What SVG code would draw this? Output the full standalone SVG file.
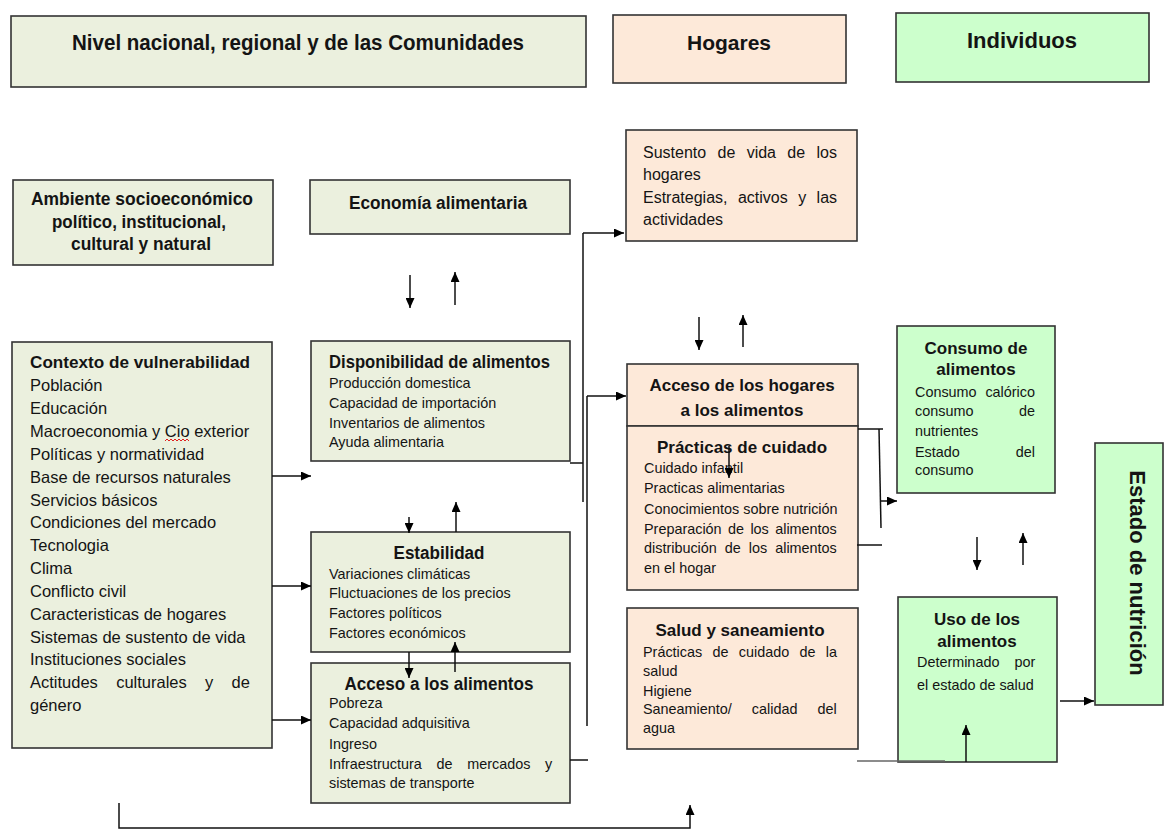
<svg xmlns="http://www.w3.org/2000/svg" width="1165" height="830" viewBox="0 0 1165 830">
<style>
.bg{fill:#EBF0DE;stroke:#333;stroke-width:1.6}
.bp{fill:#FDE9D9;stroke:#333;stroke-width:1.6}
.bv{fill:#CCFFCC;stroke:#333;stroke-width:1.6}
text{font-family:"Liberation Sans",Arial,sans-serif;fill:#141414}
.b{font-weight:bold}
.m{text-anchor:middle}
.s16{font-size:16px}
.s165{font-size:16.5px}
.s14{font-size:14.4px}
.c{stroke:#111;stroke-width:1.5;fill:none}
.a{marker-end:url(#ah)}
</style>
<defs>
<marker id="ah" viewBox="0 0 10 9" refX="10" refY="4.5" markerWidth="10" markerHeight="9" markerUnits="userSpaceOnUse" orient="auto">
<path d="M0,0 L10,4.5 L0,9 z" fill="#000"/>
</marker>
</defs>
<rect width="1165" height="830" fill="#fff"/>

<g id="nivel">
<rect class="bg" x="11" y="16" width="575" height="71"/>
<text class="b m" x="298" y="50" font-size="22" textLength="452" lengthAdjust="spacingAndGlyphs">Nivel nacional, regional y de las Comunidades</text>
</g>
<g id="hogares">
<rect class="bp" x="613" y="15" width="233" height="68"/>
<text class="b m" x="729" y="50" font-size="21">Hogares</text>
</g>
<g id="individuos">
<rect class="bv" x="896" y="13" width="253" height="69"/>
<text class="b m" x="1022" y="48" font-size="22">Individuos</text>
</g>

<g id="ambiente">
<rect class="bg" x="13" y="180" width="260" height="85"/>
<text class="b m" x="142" y="205" font-size="18" textLength="222" lengthAdjust="spacingAndGlyphs">Ambiente socioeconómico</text>
<text class="b m" x="139" y="228" font-size="18" textLength="174" lengthAdjust="spacingAndGlyphs">político, institucional,</text>
<text class="b m" x="141" y="250" font-size="18" textLength="140" lengthAdjust="spacingAndGlyphs">cultural y natural</text>
</g>

<g id="economia">
<rect class="bg" x="310" y="180" width="260" height="54"/>
<text class="b m" x="438" y="209" font-size="18" textLength="178" lengthAdjust="spacingAndGlyphs">Economía alimentaria</text>
</g>

<g id="contexto">
<rect class="bg" x="12" y="342" width="260" height="406"/>
<text class="b" x="30" y="368" font-size="17" textLength="220" lengthAdjust="spacingAndGlyphs">Contexto de vulnerabilidad</text>
<text class="s165" x="30" y="391">Población</text>
<text class="s165" x="30" y="414">Educación</text>
<text class="s165" x="30" y="437">Macroeconomia y Cio exterior</text>
<text class="s165" x="30" y="460">Políticas y normatividad</text>
<text class="s165" x="30" y="483">Base de recursos naturales</text>
<text class="s165" x="30" y="506">Servicios básicos</text>
<text class="s165" x="30" y="528">Condiciones del mercado</text>
<text class="s165" x="30" y="551">Tecnologia</text>
<text class="s165" x="30" y="574">Clima</text>
<text class="s165" x="30" y="597">Conflicto civil</text>
<text class="s165" x="30" y="620">Caracteristicas de hogares</text>
<text class="s165" x="30" y="643">Sistemas de sustento de vida</text>
<text class="s165" x="30" y="665">Instituciones sociales</text>
<text class="s165" x="30" y="688" word-spacing="13.7">Actitudes culturales y de</text>
<text class="s165" x="30" y="711">género</text>
<path d="M165,441 l2,-2 l2,2 l2,-2 l2,2 l2,-2 l2,2 l2,-2 l2,2 l2,-2 l2,2 l2,-2 l2,2" stroke="#e02020" stroke-width="1" fill="none"/>
</g>

<g id="disponibilidad">
<rect class="bg" x="311" y="341" width="259" height="120"/>
<text class="b" x="329" y="368" font-size="17.5" textLength="221" lengthAdjust="spacingAndGlyphs">Disponibilidad de alimentos</text>
<text class="s14" x="329" y="388">Producción domestica</text>
<text class="s14" x="329" y="408">Capacidad de importación</text>
<text class="s14" x="329" y="428">Inventarios de alimentos</text>
<text class="s14" x="329" y="447">Ayuda alimentaria</text>
</g>

<g id="estabilidad">
<rect class="bg" x="311" y="532" width="259" height="120"/>
<text class="b m" x="439" y="559" font-size="17.5" textLength="91" lengthAdjust="spacingAndGlyphs">Estabilidad</text>
<text class="s14" x="329" y="579">Variaciones climáticas</text>
<text class="s14" x="329" y="598">Fluctuaciones de los precios</text>
<text class="s14" x="329" y="618">Factores políticos</text>
<text class="s14" x="329" y="638">Factores económicos</text>
</g>

<g id="acceso">
<rect class="bg" x="311" y="663" width="259" height="140"/>
<text class="b m" x="439" y="690" font-size="17.5" textLength="189" lengthAdjust="spacingAndGlyphs">Acceso a los alimentos</text>
<text class="s14" x="329" y="708">Pobreza</text>
<text class="s14" x="329" y="728">Capacidad adquisitiva</text>
<text class="s14" x="329" y="749">Ingreso</text>
<text class="s14" x="329" y="769" word-spacing="10.7">Infraestructura de mercados y</text>
<text class="s14" x="329" y="788">sistemas de transporte</text>
</g>

<g id="sustento">
<rect class="bp" x="626" y="130" width="231" height="111"/>
<text class="s16" x="643" y="158" word-spacing="6.9">Sustento de vida de los</text>
<text class="s16" x="643" y="180">hogares</text>
<text class="s16" x="643" y="203" word-spacing="6">Estrategias, activos y las</text>
<text class="s16" x="643" y="225">actividades</text>
</g>

<g id="acceso-hogares">
<rect class="bp" x="627" y="364" width="231" height="62"/>
<text class="b m" x="742" y="391" font-size="17">Acceso de los hogares</text>
<text class="b m" x="742" y="416" font-size="17">a los alimentos</text>
</g>

<g id="practicas">
<rect class="bp" x="627" y="426" width="231" height="164"/>
<text class="b m" x="742" y="453" font-size="17">Prácticas de cuidado</text>
<text class="s14" x="644" y="473">Cuidado infantil</text>
<text class="s14" x="644" y="493">Practicas alimentarias</text>
<text class="s14" x="644" y="514">Conocimientos sobre nutrición</text>
<text class="s14" x="644" y="534" word-spacing="2.4">Preparación de los alimentos</text>
<text class="s14" x="644" y="553" word-spacing="4">distribución de los alimentos</text>
<text class="s14" x="644" y="573">en el hogar</text>
</g>

<g id="salud">
<rect class="bp" x="627" y="608" width="231" height="141"/>
<text class="b m" x="740" y="636" font-size="17">Salud y saneamiento</text>
<text class="s14" x="643" y="657" word-spacing="6.3">Prácticas de cuidado de la</text>
<text class="s14" x="643" y="676">salud</text>
<text class="s14" x="643" y="696">Higiene</text>
<text class="s14" x="643" y="714" word-spacing="16">Saneamiento/ calidad del</text>
<text class="s14" x="643" y="733">agua</text>
</g>

<g id="consumo">
<rect class="bv" x="897" y="326" width="158" height="167"/>
<text class="b m" x="976" y="354" font-size="17">Consumo de</text>
<text class="b m" x="976" y="375" font-size="17">alimentos</text>
<text class="s14" x="915" y="397" word-spacing="4.8">Consumo calórico</text>
<text class="s14" x="915" y="416" word-spacing="41.6">consumo de</text>
<text class="s14" x="915" y="436">nutrientes</text>
<text class="s14" x="915" y="457" word-spacing="52">Estado del</text>
<text class="s14" x="915" y="475">consumo</text>
</g>

<g id="uso">
<rect class="bv" x="898" y="597" width="159" height="165"/>
<text class="b m" x="977" y="625" font-size="17">Uso de los</text>
<text class="b m" x="977" y="647" font-size="17">alimentos</text>
<text class="s14" x="917" y="667" word-spacing="11">Determinado por</text>
<text class="s14" x="917" y="690">el estado de salud</text>
</g>

<g id="estado-nutricion">
<rect class="bv" x="1095" y="443" width="68" height="262"/>
<text class="b m" font-size="22" transform="translate(1130,573) rotate(90)">Estado de nutrición</text>
</g>

<g id="connectors">
<line class="c a" x1="410" y1="275" x2="410" y2="308"/>
<line class="c a" x1="455" y1="305" x2="455" y2="272"/>
<line class="c a" x1="409" y1="517" x2="409" y2="533"/>
<line class="c a" x1="456" y1="532" x2="456" y2="502"/>
<line class="c a" x1="409" y1="652" x2="409" y2="678"/>
<line class="c a" x1="455" y1="672" x2="455" y2="642"/>
<line class="c a" x1="272" y1="476" x2="311" y2="476"/>
<line class="c a" x1="272" y1="586" x2="311" y2="586"/>
<line class="c a" x1="272" y1="720" x2="311" y2="720"/>
<line class="c" x1="570" y1="463" x2="583" y2="463"/>
<line class="c" x1="583" y1="233" x2="583" y2="502"/>
<line class="c a" x1="583" y1="233" x2="624" y2="233"/>
<line class="c" x1="587" y1="396" x2="587" y2="726"/>
<line class="c a" x1="587" y1="396" x2="626" y2="396"/>
<line class="c" x1="570" y1="760" x2="588" y2="760"/>
<line class="c a" x1="699" y1="317" x2="699" y2="350"/>
<line class="c a" x1="743" y1="347" x2="743" y2="315"/>
<line class="c a" x1="729" y1="446" x2="729" y2="478"/>
<line class="c" x1="858" y1="429" x2="883" y2="429"/>
<line class="c" x1="879" y1="429" x2="881" y2="528"/>
<line class="c a" x1="880" y1="501" x2="897" y2="501"/>
<line class="c" x1="857" y1="545" x2="882" y2="545"/>
<line class="c a" x1="977" y1="537" x2="977" y2="570"/>
<line class="c a" x1="1023" y1="565" x2="1023" y2="533"/>
<line class="c a" x1="966" y1="762" x2="966" y2="725"/>
<line x1="857" y1="761" x2="945" y2="761" stroke="#666" stroke-width="1.5"/>
<line class="c a" x1="1060" y1="701" x2="1094" y2="701"/>
<path class="c a" d="M119,803 V828 H690 V805"/>
</g>
</svg>
